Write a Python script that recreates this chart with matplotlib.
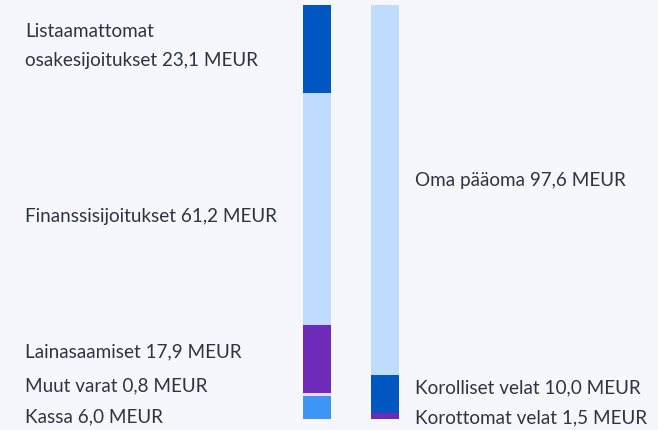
import matplotlib
matplotlib.use("Agg")
import matplotlib.pyplot as plt
import numpy as np

# Data (MEUR)
assets_labels = ["Kassa", "Muut varat", "Lainasaamiset", "Finanssisijoitukset", "Listaamattomat\nosakesijoitukset"]
assets_values = [6.0, 0.8, 17.9, 61.2, 23.1]
assets_colors = ["#3d96f5", "#f0d8f4", "#6e2ab8", "#bfdcff", "#0057c2"]

liab_labels = ["Korottomat velat", "Korolliset velat", "Oma pääoma"]
liab_values = [1.5, 10.0, 97.6]
liab_colors = ["#6e2ab8", "#0057c2", "#bfdcff"]

# label y positions (data units) chosen for layout
assets_label_y = [0.8, 8.9, 17.9, 53.7, 98.6]
liab_label_y = [0.5, 8.4, 63.2]

BG = "#f5f7fc"
TXT = "#2f3540"

def fmt(v):
    return f"{v:.1f}".replace(".", ",") + " MEUR"

fig = plt.figure(figsize=(6.58, 4.31), dpi=100, facecolor=BG)
ax = fig.add_axes([0, 11/431, 1, 414/431])
ax.set_facecolor(BG)
ax.set_xlim(0, 658)
ax.set_ylim(0, max(sum(assets_values), sum(liab_values)))
ax.axis("off")

font = dict(family="Lato", fontsize=13.6, color=TXT)

bottom = 0
for v, c in zip(assets_values, assets_colors):
    ax.bar(317, v, width=28, bottom=bottom, color=c, linewidth=0)
    bottom += v
bottom = 0
for v, c in zip(liab_values, liab_colors):
    ax.bar(385, v, width=28, bottom=bottom, color=c, linewidth=0)
    bottom += v

for lab, v, y in zip(assets_labels, assets_values, assets_label_y):
    ax.text(25, y, lab + " " + fmt(v), ha="left", va="center", linespacing=1.85, **font)
for lab, v, y in zip(liab_labels, liab_values, liab_label_y):
    ax.text(415, y, lab + " " + fmt(v), ha="left", va="center", **font)

fig.savefig("out.png", dpi=100, facecolor=BG)
